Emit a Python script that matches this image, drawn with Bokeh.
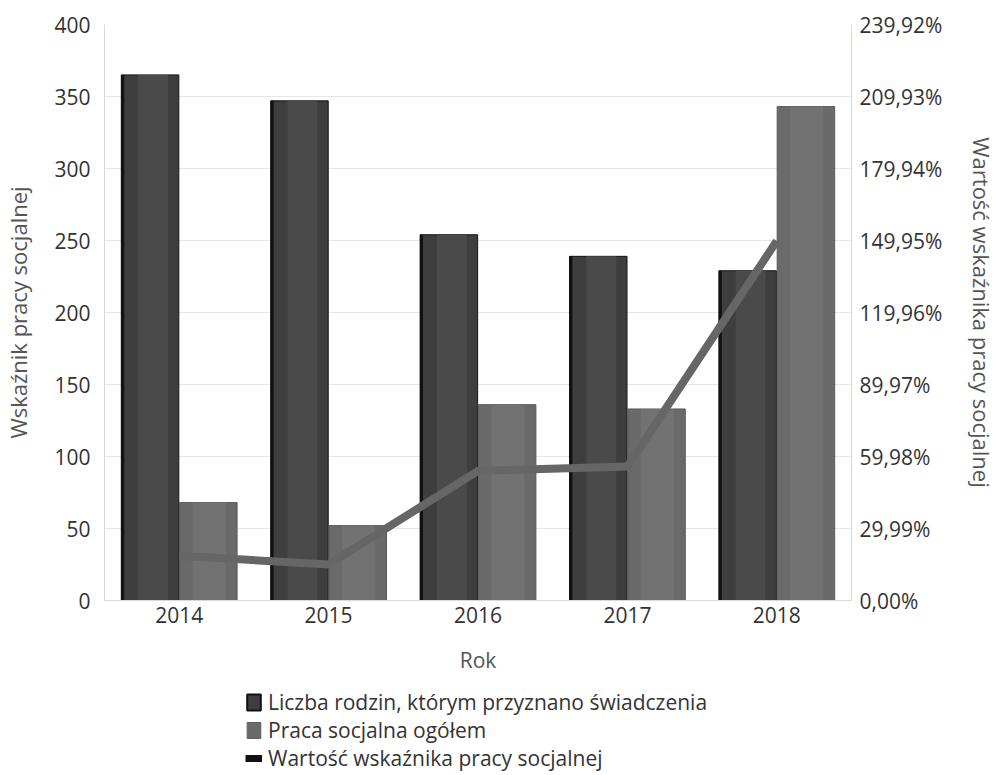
from bokeh.plotting import figure
from bokeh.layouts import column
from bokeh.models import (ColumnDataSource, FactorRange, Range1d, LinearAxis,
                          FixedTicker, Legend, LegendItem)
from bokeh.transform import dodge
from bokeh.embed import file_html
from bokeh.resources import INLINE

years = ["2014", "2015", "2016", "2017", "2018"]
liczba_rodzin = [365, 347, 254, 239, 229]
praca_socjalna = [68, 52, 136, 133, 343]
wskaznik_pct = [18.6, 15.0, 54.0, 55.8, 149.8]

left_ticks = [0, 50, 100, 150, 200, 250, 300, 350, 400]
right_ticks = [0.0, 29.99, 59.98, 89.97, 119.96, 149.95, 179.94, 209.93, 239.92]
right_labels = ["0,00%", "29,99%", "59,98%", "89,97%", "119,96%", "149,95%",
                "179,94%", "209,93%", "239,92%"]

FONT = "Open Sans"
TXT = "#333333"
DARK = "#3e3e3e"
LIGHT = "#6a6a6a"
LINE = "#666666"

src = ColumnDataSource(dict(year=years, liczba=liczba_rodzin,
                            praca=praca_socjalna, pct=wskaznik_pct))

p = figure(width=1000, height=680, x_range=FactorRange(*years),
           y_range=Range1d(0, 400), output_backend="svg",
           toolbar_location=None, min_border_left=104, min_border_right=148,
           min_border_top=24, min_border_bottom=80)
p.extra_y_ranges = {"pct": Range1d(0, 239.92)}
p.outline_line_color = None

# bars (with simple cylinder-like shading)
p.vbar(x=dodge("year", -0.195, range=p.x_range), top="liczba", width=0.385,
       source=src, fill_color=DARK, line_color="#151515", line_width=1)
p.vbar(x=dodge("year", -0.175, range=p.x_range), top="liczba", width=0.2,
       source=src, fill_color="#4a4a4a", line_color=None)
p.vbar(x=dodge("year", -0.378, range=p.x_range), top="liczba", width=0.02,
       source=src, fill_color="#111111", line_color=None)
p.vbar(x=dodge("year", 0.195, range=p.x_range), top="praca", width=0.385,
       source=src, fill_color=LIGHT, line_color="#5a5a5a", line_width=1)
p.vbar(x=dodge("year", 0.2, range=p.x_range), top="praca", width=0.22,
       source=src, fill_color="#727272", line_color=None)

# line on secondary axis
p.line(x="year", y="pct", source=src, y_range_name="pct",
       line_color=LINE, line_width=8, line_join="miter")

# axes
p.yaxis.ticker = FixedTicker(ticks=left_ticks)
p.yaxis.axis_label = "Wskaźnik pracy socjalnej"
p.xaxis.axis_label = "Rok"

right = LinearAxis(y_range_name="pct", ticker=FixedTicker(ticks=right_ticks),
                   axis_label="Wartość wskaźnika pracy socjalnej")
right.major_label_overrides = {t: l for t, l in zip(right_ticks, right_labels)}
p.add_layout(right, "right")

for ax in [p.xaxis[0], p.yaxis[0], right]:
    ax.axis_line_color = "#d9d9d9"
    ax.major_tick_line_color = None
    ax.minor_tick_line_color = None
    ax.major_tick_out = 0
    ax.major_tick_in = 0
    ax.minor_tick_out = 0
    ax.minor_tick_in = 0
    ax.major_label_text_font = FONT
    ax.major_label_text_font_size = "21px"
    ax.major_label_text_color = TXT
    ax.axis_label_text_font = FONT
    ax.axis_label_text_font_size = "22px"
    ax.axis_label_text_font_style = "normal"
    ax.axis_label_text_color = "#555555"

p.xaxis[0].axis_label_text_font_size = "21px"
p.yaxis[0].major_label_standoff = 14
p.yaxis[0].axis_label_standoff = 18
right.major_label_standoff = 8
right.axis_label_standoff = 22
p.xaxis[0].major_label_standoff = 6
p.xaxis[0].axis_label_standoff = 20

p.xgrid.grid_line_color = None
p.ygrid.grid_line_color = "#e6e6e6"
p.ygrid.grid_line_width = 1

# legend figure below the chart (its glyphs are hidden; only the legend shows)
lf = figure(width=1000, height=92, x_range=FactorRange(*years),
            y_range=Range1d(0, 400), output_backend="svg",
            toolbar_location=None, x_axis_location=None, y_axis_location=None,
            min_border=0)
lf.outline_line_color = None
lf.grid.grid_line_color = None
g1 = lf.vbar(x="year", top="liczba", width=0.4, source=src,
             fill_color=DARK, line_color="#111111", line_width=2, visible=False)
g2 = lf.vbar(x="year", top="praca", width=0.4, source=src,
             fill_color=LIGHT, line_color="#5e5e5e", line_width=1, visible=False)
g3 = lf.line(x="year", y="pct", source=src, line_color="#111111", line_width=7,
             visible=False)

legend = Legend(items=[
    LegendItem(label="Liczba rodzin, którym przyznano świadczenia", renderers=[g1]),
    LegendItem(label="Praca socjalna ogółem", renderers=[g2]),
    LegendItem(label="Wartość wskaźnika pracy socjalnej", renderers=[g3]),
], location=(141, 0))
legend.glyph_width = 17
legend.glyph_height = 20
legend.label_height = 20
legend.spacing = -7
legend.padding = 0
legend.margin = 0
legend.label_standoff = 6
legend.label_text_font = FONT
legend.label_text_font_size = "21px"
legend.label_text_color = TXT
legend.inactive_fill_alpha = 0
legend.border_line_color = None
legend.background_fill_alpha = 0
lf.add_layout(legend, "center")

open("out.html", "w").write(file_html(column(p, lf), INLINE))
